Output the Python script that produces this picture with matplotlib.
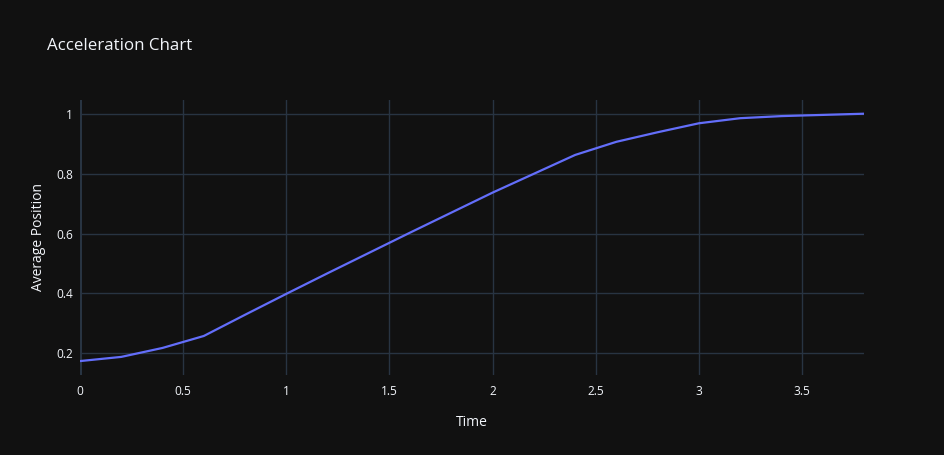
import matplotlib
matplotlib.use("Agg")
import matplotlib.pyplot as plt

time = [0.0, 0.2, 0.4, 0.6, 0.8, 1.0, 1.2, 1.4, 1.6, 1.8, 2.0, 2.2, 2.4, 2.6, 2.8, 3.0, 3.2, 3.4, 3.6, 3.8]
avg_position = [0.173, 0.187, 0.217, 0.257, 0.328, 0.398, 0.467, 0.535, 0.603, 0.670,
                0.737, 0.800, 0.863, 0.907, 0.939, 0.969, 0.986, 0.993, 0.997, 1.001]
x_ticks = [0, 0.5, 1, 1.5, 2, 2.5, 3, 3.5]
x_tick_labels = ["0", "0.5", "1", "1.5", "2", "2.5", "3", "3.5"]
y_ticks = [0.2, 0.4, 0.6, 0.8, 1.0]
y_tick_labels = ["0.2", "0.4", "0.6", "0.8", "1"]

plt.rcParams['font.family'] = ['Open Sans', 'DejaVu Sans']
BG = "#111111"
GRID = "#283442"
TXT = "#f2f5fa"

W, H = 944, 455
fig = plt.figure(figsize=(W / 100, H / 100), dpi=100, facecolor=BG)
ax = fig.add_axes([80 / W, 80 / H, 784 / W, 275 / H], facecolor=BG)

ax.plot(time, avg_position, color="#636efa", linewidth=1.6, solid_joinstyle="round", zorder=3)

ax.set_xlim(0, 3.8)
ax.set_ylim(0.1264, 1.0469)
ax.set_xticks(x_ticks)
ax.set_xticklabels(x_tick_labels)
ax.set_yticks(y_ticks)
ax.set_yticklabels(y_tick_labels)
ax.grid(True, color=GRID, linewidth=1)
ax.axvline(0, color=GRID, linewidth=2.2, zorder=2)
for s in ax.spines.values():
    s.set_visible(False)
ax.tick_params(axis="both", length=0, colors=TXT, labelsize=8.6)
ax.tick_params(axis="x", pad=7)
ax.tick_params(axis="y", pad=5)

fig.text(472 / W, 1 - 423 / H, "Time", color=TXT, fontsize=10, ha="center", va="center")
fig.text(38 / W, 1 - 237 / H, "Average Position", color=TXT, fontsize=10, ha="center",
         va="center", rotation=90)
fig.text(47 / W, 1 - 46 / H, "Acceleration Chart", color=TXT, fontsize=12.2, ha="left", va="center")

fig.savefig("out.png", dpi=100, facecolor=BG)
